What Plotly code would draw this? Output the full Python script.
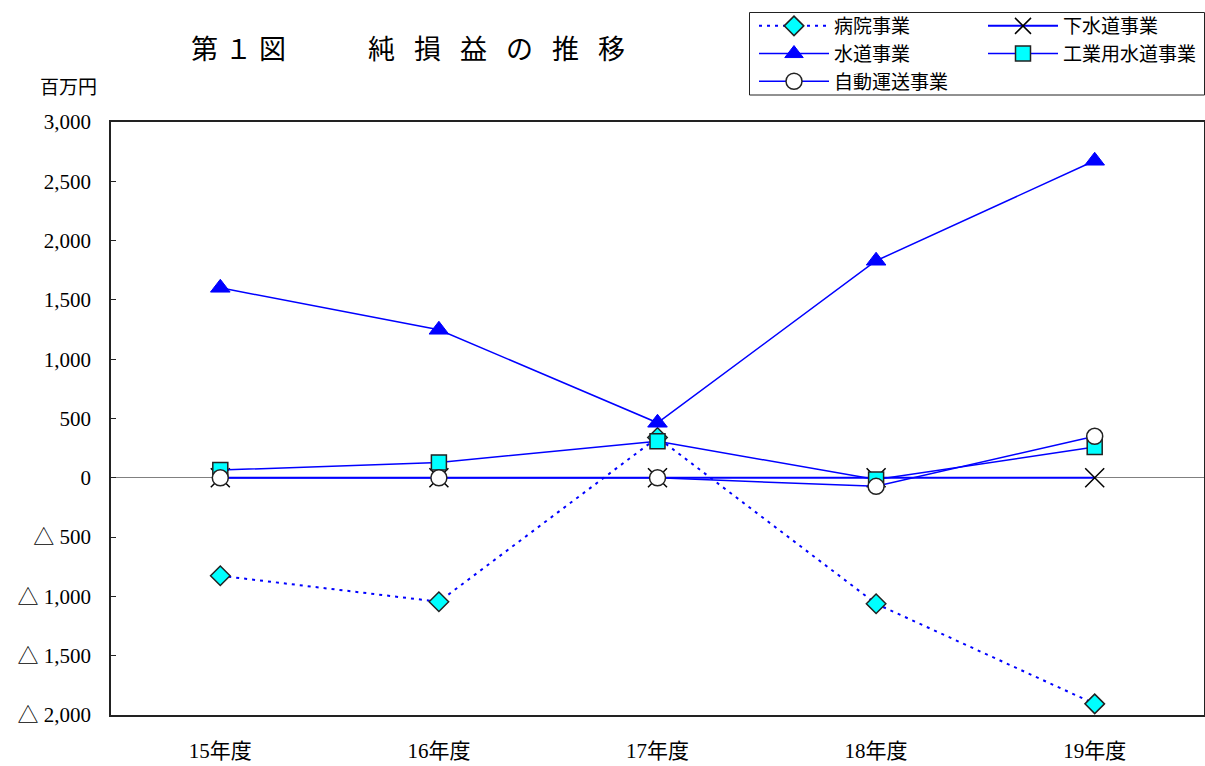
import plotly.graph_objects as go

years = ["15年度", "16年度", "17年度", "18年度", "19年度"]
hospital = [-826, -1045, 340, -1062, -1906]       # 病院事業
sewer = [0, 0, 0, 0, 0]                          # 下水道事業
water = [1602, 1248, 464, 1830, 2673]            # 水道事業
industrial = [65, 130, 308, -15, 260]            # 工業用水道事業
transport = [0, 0, 0, -72, 350]                  # 自動運送事業

ytick_vals = [3000, 2500, 2000, 1500, 1000, 500, 0, -500, -1000, -1500, -2000]
ytick_nums = ["3,000", "2,500", "2,000", "1,500", "1,000", "500", "0",
              "500", "1,000", "1,500", "2,000"]
TRI = '<span style="font-family:Noto Sans CJK JP">△</span> '
ytick_text = [(TRI + t) if v < 0 else t for v, t in zip(ytick_vals, ytick_nums)]

BLUE = "#0000FF"
CYAN = "#00FFFF"
W, H = 1205, 766
L, R, T, B = 111, 1, 122, 51
pw, ph = W - L - R, H - T - B

def px_x(p):
    return (p - L) / pw

def px_y(p):
    return (H - B - p) / ph

legend_font = dict(family="Noto Sans CJK JP", size=19, color="black")

fig = go.Figure()
fig.add_trace(go.Scatter(
    x=years, y=hospital, name="病院事業", mode="lines+markers",
    line=dict(color=BLUE, width=2, dash="3px,5px"),
    marker=dict(symbol="diamond", size=15, color=CYAN, line=dict(color="#222", width=1.5)),
    legend="legend"))
fig.add_trace(go.Scatter(
    x=years, y=sewer, name="下水道事業", mode="lines+markers",
    line=dict(color=BLUE, width=2),
    marker=dict(symbol="x-thin", size=19, color="black", line=dict(color="black", width=1.5)),
    legend="legend2"))
fig.add_trace(go.Scatter(
    x=years, y=water, name="水道事業", mode="lines+markers",
    line=dict(color=BLUE, width=1.5),
    marker=dict(symbol="triangle-up", size=17, color=BLUE, line=dict(color=BLUE, width=1)),
    legend="legend"))
fig.add_trace(go.Scatter(
    x=years, y=industrial, name="工業用水道事業", mode="lines+markers",
    line=dict(color=BLUE, width=1.5),
    marker=dict(symbol="square", size=15, color=CYAN, line=dict(color="#222", width=1.5)),
    legend="legend2"))
fig.add_trace(go.Scatter(
    x=years, y=transport, name="自動運送事業", mode="lines+markers",
    line=dict(color=BLUE, width=1.5),
    marker=dict(symbol="circle", size=16, color="white", line=dict(color="#222", width=1.5)),
    legend="legend"))

fig.update_layout(
    width=W, height=H,
    margin=dict(l=L, r=R, t=T, b=B, autoexpand=False),
    paper_bgcolor="white", plot_bgcolor="white",
    showlegend=True,
    legend=dict(x=px_x(754), y=px_y(7), xanchor="left", yanchor="top",
                orientation="v", font=legend_font, itemwidth=70,
                bgcolor="rgba(0,0,0,0)", borderwidth=0, traceorder="normal"),
    legend2=dict(x=px_x(983), y=px_y(7), xanchor="left", yanchor="top",
                 orientation="v", font=legend_font, itemwidth=70,
                 bgcolor="rgba(0,0,0,0)", borderwidth=0, traceorder="normal"),
    xaxis=dict(type="category", range=[-0.5, 4.5], showgrid=False, zeroline=False,
               showline=True, linecolor="#222", linewidth=1.5, mirror=True,
               ticks="", ticklabelstandoff=16, automargin=False,
               tickfont=dict(family="Liberation Serif, Noto Sans CJK JP", size=21, color="black")),
    yaxis=dict(range=[-2000, 3000], tickvals=ytick_vals, ticktext=ytick_text,
               showgrid=False, zeroline=True, zerolinecolor="#808080", zerolinewidth=1,
               showline=True, linecolor="#222", linewidth=1.5, mirror=True,
               ticks="inside", ticklen=5, tickcolor="#222", ticklabelstandoff=14,
               automargin=False,
               tickfont=dict(family="Liberation Serif", size=21, color="black")),
    shapes=[dict(type="rect", xref="paper", yref="paper",
                 x0=px_x(749.5), x1=px_x(1204.5), y0=px_y(95), y1=px_y(12.5),
                 line=dict(color="#222", width=1), fillcolor="rgba(0,0,0,0)")],
    annotations=[
        dict(text='<span style="letter-spacing:7px">第１図</span>', xref="paper", yref="paper",
             x=px_x(189), y=px_y(47), xanchor="left", yanchor="middle", showarrow=False,
             font=dict(family="Noto Sans CJK JP", size=27, color="black")),
        dict(text='<span style="letter-spacing:19px">純損益の推移</span>', xref="paper", yref="paper",
             x=px_x(366), y=px_y(47), xanchor="left", yanchor="middle", showarrow=False,
             font=dict(family="Noto Sans CJK JP", size=27, color="black")),
        dict(text="百万円", xref="paper", yref="paper",
             x=px_x(68), y=px_y(85), xanchor="center", yanchor="middle", showarrow=False,
             font=dict(family="Noto Sans CJK JP", size=19, color="black")),
    ],
)

fig.write_html("out.html")
